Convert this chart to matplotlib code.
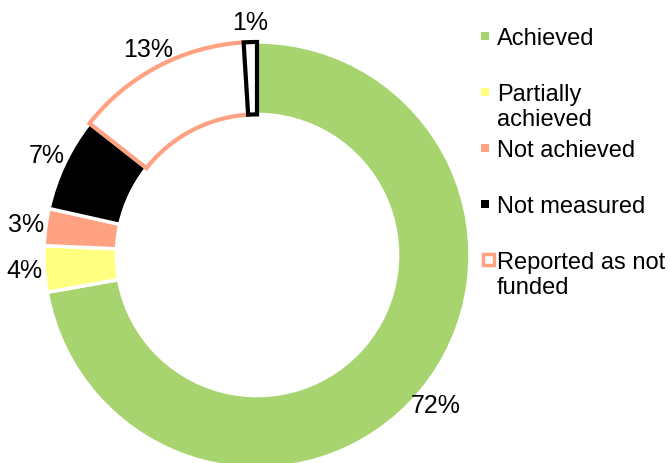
import matplotlib.pyplot as plt
from matplotlib.patches import Rectangle

plt.rcParams['font.family'] = ['Liberation Sans', 'DejaVu Sans']

# values (clockwise from 12 o'clock), shares in percent
labels = ['Achieved', 'Partially\nachieved', 'Not achieved', 'Not measured',
          'Reported as not\nfunded', '']
values = [72.2, 3.5, 2.8, 7.1, 13.4, 1.0]
fills = ['#A7D46F', '#FFFF80', '#FFA282', '#000000', '#FFFFFF', '#FFFFFF']
edges = ['white', 'white', 'white', 'white', '#FFA282', 'black']
edge_w = [2.5, 2.5, 2.5, 2.5, 3, 3]

fig = plt.figure(figsize=(6.7, 4.64), dpi=100)
ax = fig.add_axes([44 / 670, -5 / 464, 426 / 670, 426 / 464])

wedges, texts, autotexts = ax.pie(
    values, colors=fills, startangle=90, counterclock=False,
    radius=1.0, autopct='%1.0f%%', pctdistance=1.095,
    wedgeprops=dict(width=0.34),
    textprops=dict(fontsize=18, color='black'))
for w, ec, lw in zip(wedges, edges, edge_w):
    w.set_edgecolor(ec)
    w.set_linewidth(lw)
wedges[-1].set_zorder(5)
ax.set_xlim(-1, 1)
ax.set_ylim(-1, 1)
ax.set_aspect('equal')
ax.axis('off')

# legend drawn by hand so that entries sit at even spacing
lg = fig.add_axes([0, 0, 1, 1])
lg.set_xlim(0, 670)
lg.set_ylim(464, 0)
lg.axis('off')
base_y = 45
step = 56
for i in range(5):
    y = base_y + i * step
    if edges[i] == 'white':
        lg.add_patch(Rectangle((481, y - 12), 8, 8, facecolor=fills[i],
                               edgecolor='none'))
    else:
        lg.add_patch(Rectangle((482.5, y - 14.5), 11, 11, facecolor=fills[i],
                               edgecolor=edges[i], linewidth=2.5))
    lg.text(497, y - 17, labels[i], fontsize=17, va='top', ha='left',
            linespacing=1.15)

fig.savefig('out.png', dpi=100)
